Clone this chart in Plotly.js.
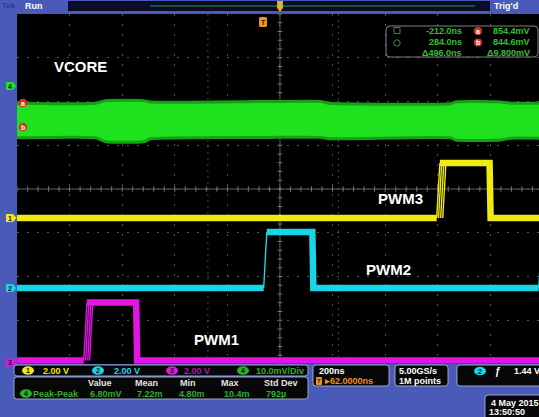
<!DOCTYPE html>
<html><head><meta charset="utf-8">
<script src="https://cdn.plot.ly/plotly-3.0.1.min.js"></script>
<style>html,body{margin:0;padding:0;background:#4a5ab8;overflow:hidden}</style>
</head><body><div id="chart" style="width:539px;height:417px"></div>
<script>
// ---------------- data ----------------
// time in ns relative to the trigger point, VCORE in mV, PWM in V
const vcoreTime  = [-938, -639, -601, -456, -430, 27, 217, 247, 711, 730, 901, 939, 1047];
const vcoreUpper = [853.8, 853.8, 854.4, 854.4, 854.1, 854.2, 854.2, 853.8, 853.7, 854.1, 854.1, 853.8, 853.8];
const vcoreLower = [845.9, 845.9, 845.0, 845.0, 845.7, 846.0, 846.0, 845.7, 845.9, 845.4, 845.4, 845.8, 845.8];

const pwmLow = 0;
const pwm1RiseTimes = [-684, -677, -669, -662];
const pwm1FallTime = -483;
const pwm1High = 2.65;
const pwm2RiseTimes = [0];
const pwm2FallTime = 187;
const pwm2NextRise = 1046;
const pwm2High = 2.56;
const pwm3RiseTimes = [658, 665, 673, 681];
const pwm3FallTime = 861;
const pwm3High = 2.51;

const traceLabels = ["VCORE", "PWM3", "PWM2", "PWM1"];
const cursorTimes = [-212.0, 284.0];
const cursorLevels = [854.4, 844.6];
const channelScales = ["2.00 V", "2.00 V", "2.00 V", "10.0mV/Div"];
const measHeaders = ["Value", "Mean", "Min", "Max", "Std Dev"];
const measValues = ["6.80mV", "7.22m", "4.80m", "10.4m", "792\u00b5"];
const measName = "Peak-Peak";
const timebase = "200ns";
const triggerPos = "62.0000ns";
const sampleInfo = ["5.00GS/s", "1M points"];
const triggerLevel = "1.44 V";
const dateInfo = ["4 May 2015", "13:50:50"];

// ---------------- screen geometry / styling ----------------
const T_RANGE = [-938, 1047];
const CENTER_T = 62;
const L = 17, R = 539, TOP = 14, BOT = 364;
const X = px => (px - L) / (R - L);
const Y = py => (BOT - py) / (BOT - TOP);
const DIVPX = (BOT - TOP) / 8;
const posOf = py => ((TOP + BOT) / 2 - py) / DIVPX;

const COL = {
  frame: '#4a5ab8', yellow: '#efea10', cyan: '#19d6e6', magenta: '#e414e4',
  green: 'rgb(30,226,30)', greenEdge: 'rgb(22,160,22)', txtGreen: '#33bf33', orange: '#ec9320'
};
const ch = {
  1: {scale: 2, pos: posOf(218)},
  2: {scale: 2, pos: posOf(288)},
  3: {scale: 2, pos: posOf(360.5)},
};
const chRange = c => [(-4 - c.pos) * c.scale, (4 - c.pos) * c.scale];
const ch4Center = 834.2, ch4Scale = 10;

const RISE = 12, FALLH = 2;
const traces = [];

// VCORE envelope
traces.push({x: vcoreTime, y: vcoreLower, yaxis: 'y5', mode: 'lines', line: {color: COL.greenEdge, width: 3, shape: 'spline', smoothing: 0.5}, hoverinfo: 'skip'});
traces.push({x: vcoreTime, y: vcoreUpper, yaxis: 'y5', mode: 'lines', fill: 'tonexty', fillcolor: COL.green, line: {color: COL.greenEdge, width: 3, shape: 'spline', smoothing: 0.5}, hoverinfo: 'skip'});

function pwm(rises, fall, high, axis, color, nextRise) {
  const endT = T_RANGE[1] + 60;
  const xs = [T_RANGE[0] - 20, rises[0], null, rises[0] + RISE, fall - FALLH, fall + FALLH];
  const ys = [pwmLow, pwmLow, null, high, high, pwmLow];
  if (nextRise !== undefined) {
    xs.push(nextRise, null, nextRise + RISE, endT);
    ys.push(pwmLow, null, high, high);
  } else {
    xs.push(endT); ys.push(pwmLow);
  }
  traces.push({x: xs, y: ys, yaxis: axis, mode: 'lines', line: {color: color, width: 6.5}, connectgaps: false, hoverinfo: 'skip'});
  const rx = [], ry = [];
  rises.forEach(r => { rx.push(r, r + RISE, null); ry.push(pwmLow, high, null); });
  if (nextRise !== undefined) { rx.push(nextRise, nextRise + RISE, null); ry.push(pwmLow, high, null); }
  traces.push({x: rx, y: ry, yaxis: axis, mode: 'lines', line: {color: color, width: 1.4}, hoverinfo: 'skip'});
}
pwm(pwm1RiseTimes, pwm1FallTime, pwm1High, 'y4', COL.magenta);
pwm(pwm2RiseTimes, pwm2FallTime, pwm2High, 'y3', COL.cyan, pwm2NextRise);
pwm(pwm3RiseTimes, pwm3FallTime, pwm3High, 'y2', COL.yellow);

// ---------------- shapes ----------------
const shapes = [];
shapes.push({type: 'line', xref: 'x', yref: 'paper', x0: CENTER_T, x1: CENTER_T, y0: 0, y1: 1, line: {color: '#5e5e5e', width: 1}, layer: 'below'});
shapes.push({type: 'line', xref: 'paper', yref: 'y', x0: 0, x1: 1, y0: 0, y1: 0, line: {color: '#5e5e5e', width: 1}, layer: 'below'});
let tp = '';
for (let k = -30; k <= 30; k++) {
  const t = CENTER_T + k * 40;
  if (t < T_RANGE[0] || t > T_RANGE[1]) continue;
  tp += `M${t},-0.06L${t},0.06`;
}
for (let k = -20; k <= 20; k++) {
  const d = k * 0.2;
  tp += `M${CENTER_T - 9},${d}L${CENTER_T + 9},${d}`;
}
shapes.push({type: 'path', xref: 'x', yref: 'y', path: tp, line: {color: '#7a7a7a', width: 1}, layer: 'below'});
cursorTimes.forEach(t => shapes.push({type: 'line', xref: 'x', yref: 'paper', x0: t, x1: t, y0: 0, y1: 1, line: {color: 'rgba(70,150,100,0.6)', width: 1, dash: '2px,4px'}, layer: 'below'}));

function rr(x0, y0, x1, y1, r, fill, line) {
  const p = (x, y) => `${X(x)},${Y(y)}`;
  const path = `M${p(x0 + r, y0)}L${p(x1 - r, y0)}Q${p(x1, y0)} ${p(x1, y0 + r)}L${p(x1, y1 - r)}Q${p(x1, y1)} ${p(x1 - r, y1)}L${p(x0 + r, y1)}Q${p(x0, y1)} ${p(x0, y1 - r)}L${p(x0, y0 + r)}Q${p(x0, y0)} ${p(x0 + r, y0)}Z`;
  shapes.push({type: 'path', xref: 'paper', yref: 'paper', path: path, fillcolor: fill, line: line || {width: 0}, layer: 'above'});
}
function rect(x0, y0, x1, y1, fill, line) {
  shapes.push({type: 'rect', xref: 'paper', yref: 'paper', x0: X(x0), x1: X(x1), y0: Y(y1), y1: Y(y0), fillcolor: fill, line: line || {width: 0}, layer: 'above'});
}
function circ(cx, cy, rx, ry, fill, line) {
  shapes.push({type: 'circle', xref: 'paper', yref: 'paper', x0: X(cx - rx), x1: X(cx + rx), y0: Y(cy + ry), y1: Y(cy - ry), fillcolor: fill, line: line || {width: 0}, layer: 'above'});
}

const ann = [];
function txt(px, py, text, color, size, anchor, bold, family) {
  ann.push({xref: 'paper', yref: 'paper', x: X(px), y: Y(py), text: bold ? `<b>${text}</b>` : text, showarrow: false,
    xanchor: anchor || 'left', yanchor: 'middle', font: {family: family || 'Liberation Sans, Arial, sans-serif', size: size, color: color}, borderpad: 0});
}

// top status bar
rect(68, 1, 490, 11, '#0b0d28');
shapes.push({type: 'line', xref: 'paper', yref: 'paper', x0: X(150), x1: X(475), y0: Y(6), y1: Y(6), line: {color: '#1f6a30', width: 1.5}, layer: 'above'});
shapes.push({type: 'path', xref: 'paper', yref: 'paper', path: `M${X(277)},${Y(1)}L${X(283)},${Y(1)}L${X(283)},${Y(8)}L${X(280)},${Y(12)}L${X(277)},${Y(8)}Z`, fillcolor: '#d9b02a', line: {width: 0}, layer: 'above'});
txt(1, 5.5, 'Tek', '#2c3a8c', 8, 'left', true);
txt(24, 5.5, 'Run', '#ffffff', 9, 'left', true);
txt(493, 5.5, "Trig'd", '#ffffff', 9, 'left', true);

// trigger position tag
rr(259, 17, 267, 27, 1.5, COL.orange);
txt(263, 22, 'T', '#3a1e00', 7, 'center', true);

// left channel tags
[[86, COL.green, '4'], [218, COL.yellow, '1'], [288, COL.cyan, '2'], [362.5, COL.magenta, '3']].forEach(([py, c, n]) => {
  shapes.push({type: 'path', xref: 'paper', yref: 'paper', path: `M${X(6)},${Y(py - 4)}L${X(13)},${Y(py - 4)}L${X(16.5)},${Y(py)}L${X(13)},${Y(py + 4)}L${X(6)},${Y(py + 4)}Z`, fillcolor: c, line: {width: 0}, layer: 'above'});
  txt(10, py, n, '#101010', 7, 'center', true);
});

// waveform markers a / b
circ(23, 103, 4.2, 4.2, '#e0301c');
txt(23, 103, 'a', '#ffffff', 7, 'center', true);
circ(23, 127, 4.2, 4.2, '#e0301c');
txt(23, 127, 'b', '#ffffff', 7, 'center', true);

// curve labels
txt(80, 66, traceLabels[0], '#ffffff', 15, 'center', true);
txt(400, 198, traceLabels[1], '#ffffff', 15, 'center', true);
txt(388, 269, traceLabels[2], '#ffffff', 15, 'center', true);
txt(216, 339, traceLabels[3], '#ffffff', 15, 'center', true);

// cursor readout box
rr(386, 26, 538, 57, 4, 'rgba(0,0,0,0.92)', {color: 'rgba(170,175,170,0.75)', width: 1});
rect(394, 27.5, 400, 33.5, 'rgba(0,0,0,0)', {color: '#2f8f3f', width: 1});
circ(397, 43, 3.2, 3.2, 'rgba(0,0,0,0)', {color: '#2f8f3f', width: 1});
const fmtT = t => t.toFixed(1) + 'ns';
txt(463, 31, fmtT(cursorTimes[0]), COL.txtGreen, 9, 'right', true);
txt(463, 42.5, fmtT(cursorTimes[1]), COL.txtGreen, 9, 'right', true);
txt(463, 53, '\u0394' + fmtT(cursorTimes[1] - cursorTimes[0]), COL.txtGreen, 9, 'right', true);
circ(478, 31, 4, 4, '#e0301c');
txt(478, 31, 'a', '#ffffff', 7, 'center', true);
circ(478, 42.5, 4, 4, '#e0301c');
txt(478, 42.5, 'b', '#ffffff', 7, 'center', true);
txt(531, 31, cursorLevels[0].toFixed(1) + 'mV', COL.txtGreen, 9, 'right', true);
txt(531, 42.5, cursorLevels[1].toFixed(1) + 'mV', COL.txtGreen, 9, 'right', true);
txt(531, 53, '\u0394' + (cursorLevels[0] - cursorLevels[1]).toFixed(3) + 'mV', COL.txtGreen, 9, 'right', true);

// bottom panels
const boxLine = {color: 'rgba(165,175,215,0.9)', width: 1};
rr(14, 365, 308, 376, 3, '#070707', boxLine);
rr(14, 377, 308, 399, 3, '#070707', boxLine);
rr(313, 365, 389, 386, 3, '#070707', boxLine);
rr(395, 365, 448, 386, 3, '#070707', boxLine);
rr(457, 365, 550, 386, 3, '#070707', boxLine);
rr(485, 395, 550, 422, 3, '#070707', boxLine);

const chCols = [COL.yellow, COL.cyan, COL.magenta, '#25b525'];
const chTxtCols = [COL.yellow, COL.cyan, '#a51ca5', '#2fae2f'];
const chCx = [28, 98, 172, 243];
const chTx = [42, 113, 183, 255];
chCx.forEach((cx, i) => {
  circ(cx, 370.5, 6, 4.3, chCols[i]);
  txt(cx, 370.5, String(i + 1), '#111111', 7, 'center', true);
  txt(chTx[i], 370.5, channelScales[i], chTxtCols[i], 9, 'left', true);
});
const hdrCx = [100, 146, 188, 230, 281];
measHeaders.forEach((h, i) => txt(hdrCx[i], 383, h, '#e4e4e4', 9, 'center', true));
circ(26, 393.5, 6, 4.3, '#25b525');
txt(26, 393.5, '4', '#111111', 7, 'center', true);
txt(32, 393.5, measName, '#2fae2f', 9, 'left', true);
const valX = [89, 136, 178, 223, 265];
measValues.forEach((v, i) => txt(valX[i], 393.5, v, '#2fae2f', 9, 'left', true));

txt(318, 371, timebase, '#ffffff', 9, 'left', true);
rr(316, 377, 322, 385, 1, COL.orange);
txt(319, 381, 'T', '#3a1e00', 6, 'center', true);
txt(323, 381, '\u25b8' + triggerPos, COL.orange, 9, 'left', true);
txt(398, 371, sampleInfo[0], '#ffffff', 9, 'left', true);
txt(398, 381, sampleInfo[1], '#ffffff', 9, 'left', true);
circ(480, 371, 6, 4.3, COL.cyan);
txt(480, 371, '2', '#111111', 7, 'center', true);
txt(494, 371, '\u0192', '#ffffff', 10, 'left', true);
txt(513, 371, triggerLevel, '#ffffff', 9, 'left', true);
txt(490, 403, dateInfo[0], '#ffffff', 9, 'left', true);
txt(488, 412, dateInfo[1], '#ffffff', 9, 'left', true);

// ---------------- layout ----------------
const gridDash = '2px,8px';
const layout = {
  width: 539, height: 417,
  margin: {l: L, r: 0, t: TOP, b: 417 - BOT, pad: 0},
  paper_bgcolor: COL.frame, plot_bgcolor: '#000000',
  showlegend: false,
  xaxis: {range: T_RANGE, tick0: CENTER_T, dtick: 200, showgrid: true, gridcolor: '#525252', griddash: gridDash, gridwidth: 1,
    zeroline: false, showticklabels: false, ticks: '', showline: false, fixedrange: true},
  yaxis: {range: [-4, 4], tick0: 0, dtick: 1, showgrid: true, gridcolor: '#525252', griddash: gridDash, gridwidth: 1,
    zeroline: false, showticklabels: false, ticks: '', showline: false, fixedrange: true},
  yaxis2: {overlaying: 'y', range: chRange(ch[1]), visible: false, fixedrange: true},
  yaxis3: {overlaying: 'y', range: chRange(ch[2]), visible: false, fixedrange: true},
  yaxis4: {overlaying: 'y', range: chRange(ch[3]), visible: false, fixedrange: true},
  yaxis5: {overlaying: 'y', range: [ch4Center - 4 * ch4Scale, ch4Center + 4 * ch4Scale], visible: false, fixedrange: true},
  shapes: shapes,
  annotations: ann
};
Plotly.newPlot('chart', traces, layout, {displayModeBar: false, staticPlot: true});
</script>
</body></html>
